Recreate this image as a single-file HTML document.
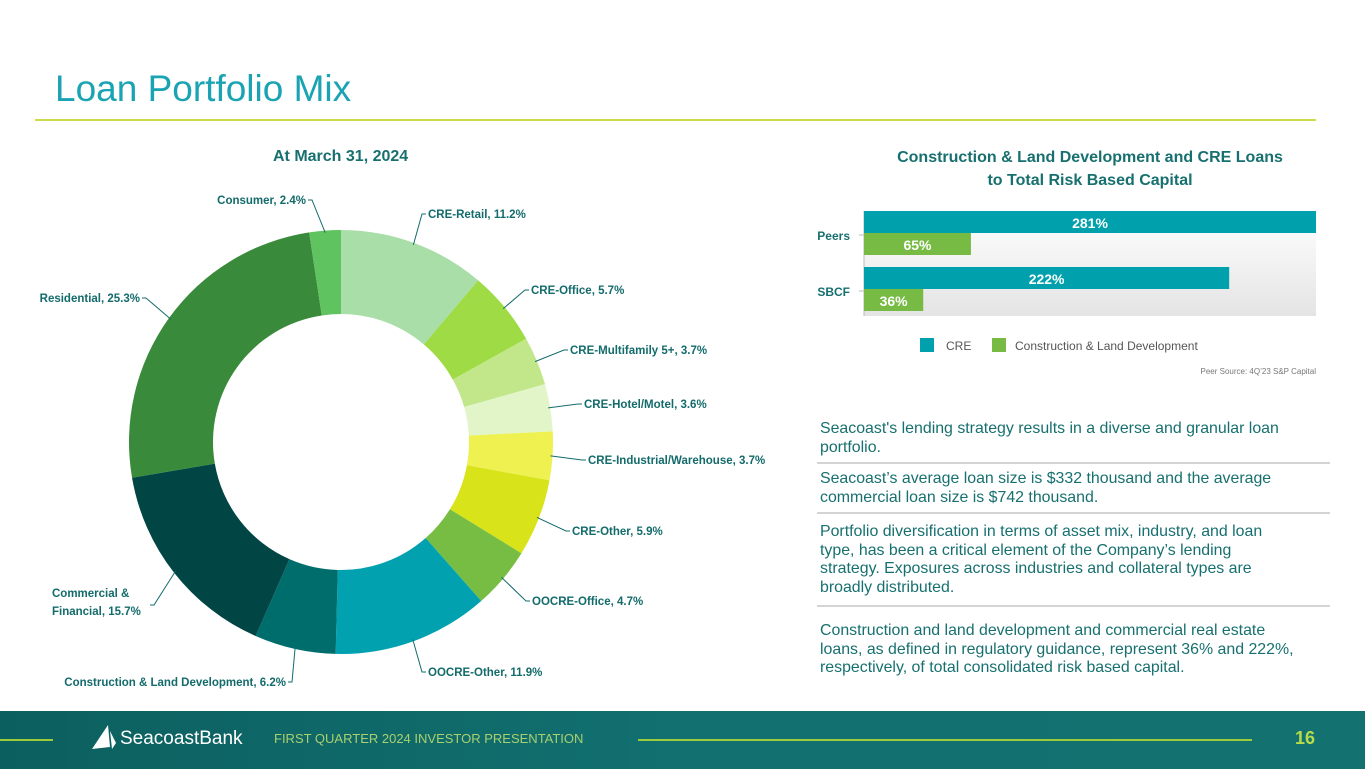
<!DOCTYPE html>
<html><head><meta charset="utf-8">
<style>
*{margin:0;padding:0;box-sizing:border-box}
body{width:1365px;height:769px;position:relative;background:#fff;font-family:"Liberation Sans",sans-serif;overflow:hidden}
.abs{position:absolute;white-space:nowrap}
.para{position:absolute;left:820px;color:#17706f;font-size:15.9px;line-height:18.5px;white-space:nowrap}
.sep{position:absolute;left:817px;width:513px;height:2px;background:#d4d4d4}
.lbl{font-size:11.5px;font-weight:bold;fill:#136b6b;font-family:"Liberation Sans",sans-serif}
</style></head><body>
<div class="abs" style="left:55px;top:68px;font-size:37px;color:#1aa3b3">Loan Portfolio Mix</div>
<div class="abs" style="left:35px;top:119px;width:1281px;height:2px;background:#cddc4a"></div>

<div class="abs" style="left:273px;top:148px;font-size:16px;font-weight:bold;color:#17706f">At March 31, 2024</div>
<svg id="donut" class="abs" style="left:0;top:0" width="800" height="700"></svg>

<div class="abs" style="left:820px;top:146px;width:540px;text-align:center;font-size:16px;font-weight:bold;color:#17706f;line-height:23px">Construction &amp; Land Development and CRE Loans<br>to Total Risk Based Capital</div>
<svg id="bars" class="abs" style="left:800px;top:200px" width="540" height="180"></svg>

<div class="para" style="top:420px">Seacoast's lending strategy results in a diverse and granular loan<br>portfolio.</div>
<div class="sep" style="top:462px"></div>
<div class="para" style="top:470px">Seacoast’s average loan size is $332 thousand and the average<br>commercial loan size is $742 thousand.</div>
<div class="sep" style="top:512px"></div>
<div class="para" style="top:523px">Portfolio diversification in terms of asset mix, industry, and loan<br>type, has been a critical element of the Company’s lending<br>strategy. Exposures across industries and collateral types are<br>broadly distributed.</div>
<div class="sep" style="top:605px"></div>
<div class="para" style="top:622px">Construction and land development and commercial real estate<br>loans, as defined in regulatory guidance, represent 36% and 222%,<br>respectively, of total consolidated risk based capital.</div>

<div class="abs" style="left:0;top:711px;width:1365px;height:58px;background:linear-gradient(90deg,#0c5f5f,#127070 50%,#13716f)"></div>
<div class="abs" style="left:0;top:739px;width:53px;height:2px;background:#9ccc3c"></div>
<div class="abs" style="left:638px;top:739px;width:614px;height:2px;background:#9ccc3c"></div>
<svg class="abs" style="left:90px;top:723px" width="28" height="30"><path d="M18 2 L2 26 L20 24 Z M20 8 L22 26 L26 20Z" fill="#fff"/></svg>
<div class="abs" style="left:120px;top:728px;font-size:19px;color:#fff">SeacoastBank</div>
<div class="abs" style="left:274px;top:731px;font-size:13px;color:#a8d070">FIRST QUARTER 2024 INVESTOR PRESENTATION</div>
<div class="abs" style="left:1295px;top:728px;font-size:18px;font-weight:bold;color:#b6dc4a">16</div>

<script>
const NS='http://www.w3.org/2000/svg';
function mk(p,t,a){const e=document.createElementNS(NS,t);for(const k in a)e.setAttribute(k,a[k]);p.appendChild(e);return e;}
// Donut data
const sliceNames=['CRE-Retail','CRE-Office','CRE-Multifamily 5+','CRE-Hotel/Motel','CRE-Industrial/Warehouse','CRE-Other','OOCRE-Office','OOCRE-Other','Construction & Land Development','Commercial & Financial','Residential','Consumer'];
const sliceValues=[11.2,5.7,3.7,3.6,3.7,5.9,4.7,11.9,6.2,15.7,25.3,2.4];
const sliceColors=['#a9dea9','#9edb44','#c1e78a','#e1f5c9','#eef14f','#d8e31a','#77bd43','#01a1b0','#006d6d','#014545','#398a3a','#5fc35f'];
// label anchor positions (layout, not data)
const labelPos=[[428,218,'start'],[531,294,'start'],[570,354,'start'],[584,408,'start'],[588,464,'start'],[572,535,'start'],[532,605,'start'],[428,676,'start'],[286,686,'end'],[148,615,'end'],[140,302,'end'],[306,204,'end']];
const d=document.getElementById('donut');
const cx=341,cy=442,R=212,r=128;
let tot=sliceValues.reduce((a,b)=>a+b,0),acc=0;
sliceValues.forEach((v,i)=>{
  const a0=acc/tot*2*Math.PI,a1=(acc+v)/tot*2*Math.PI;acc+=v;
  const P=(rad,a)=>[cx+rad*Math.sin(a),cy-rad*Math.cos(a)];
  const [x0,y0]=P(R,a0),[x1,y1]=P(R,a1),[x2,y2]=P(r,a1),[x3,y3]=P(r,a0);
  const lg=(a1-a0)>Math.PI?1:0;
  const p=mk(d,'path',{d:`M${x0} ${y0}A${R} ${R} 0 ${lg} 1 ${x1} ${y1}L${x2} ${y2}A${r} ${r} 0 ${lg} 0 ${x3} ${y3}Z`,fill:sliceColors[i]});
  
  
  const am=(a0+a1)/2,[ex,ey]=P(R-2,am);
  const [lx,ly,anc]=labelPos[i];
  const tx=anc==='start'?lx-6:lx+6;
  const ty=i===9?ly-10:ly-4;
  mk(d,'polyline',{points:`${ex},${ey} ${tx},${ty} ${anc==='start'?tx+4:tx-4},${ty}`,fill:'none',stroke:'#136b6b','stroke-width':1});
  const t=mk(d,'text',{x:lx,y:ly,'text-anchor':anc,class:'lbl'});
  
  
  if(i===9){t.setAttribute('text-anchor','start');t.setAttribute('x',52);t.setAttribute('y',ly-18);
    mk(t,'tspan',{x:52}).textContent='Commercial &';mk(t,'tspan',{x:52,dy:18}).textContent='Financial, '+v+'%';}
  else t.textContent=sliceNames[i]+', '+v+'%';
});
// Bar data
const barCategories=['Peers','SBCF'];
const creValues=[281,222];
const cldValues=[65,36];
const b=document.getElementById('bars');
const x0=64,pw=452,pxPer=1.645;
const xs=v=>Math.min(v*pxPer,pw);
const g=mk(b,'defs',{});const lgd=mk(g,'linearGradient',{id:'bg',x1:0,y1:0,x2:0,y2:1});
mk(lgd,'stop',{offset:0,'stop-color':'#ffffff'});mk(lgd,'stop',{offset:1,'stop-color':'#e4e4e4'});
mk(b,'rect',{x:x0,y:11,width:pw,height:105,fill:'url(#bg)'});
mk(b,'line',{x1:x0,y1:11,x2:x0,y2:116,stroke:'#bbb'});
barCategories.forEach((c,i)=>{
  const top=11+i*56;
  mk(b,'line',{x1:x0-5,y1:top+24,x2:x0,y2:top+24,stroke:'#bbb'});
  const tl=mk(b,'text',{x:50,y:top+29,'text-anchor':'end','font-size':12,'font-weight':'bold',fill:'#17706f'});
  tl.textContent=c;
  const r1=mk(b,'rect',{x:x0,y:top,width:xs(creValues[i]),height:22,fill:'#00a0ad'});
  
  
  const t1=mk(b,'text',{x:x0+xs(creValues[i])/2,y:top+17,'text-anchor':'middle','font-size':14,'font-weight':'bold',fill:'#fff'});t1.textContent=creValues[i]+'%';
  const r2=mk(b,'rect',{x:x0,y:top+22,width:xs(cldValues[i]),height:22,fill:'#78bb44'});
  
  
  const t2=mk(b,'text',{x:x0+xs(cldValues[i])/2,y:top+39,'text-anchor':'middle','font-size':14,'font-weight':'bold',fill:'#fff'});t2.textContent=cldValues[i]+'%';
});
mk(b,'rect',{x:120,y:138,width:14,height:14,fill:'#00a0ad'});
const l1=mk(b,'text',{x:146,y:150,'font-size':12,fill:'#555'});l1.textContent='CRE';
mk(b,'rect',{x:192,y:138,width:14,height:14,fill:'#78bb44'});
const l2=mk(b,'text',{x:215,y:150,'font-size':12,fill:'#555'});l2.textContent='Construction & Land Development';
const src=mk(b,'text',{x:516,y:174,'text-anchor':'end','font-size':8,fill:'#777'});src.textContent='Peer Source: 4Q’23 S&P Capital';
</script>
</body></html>
